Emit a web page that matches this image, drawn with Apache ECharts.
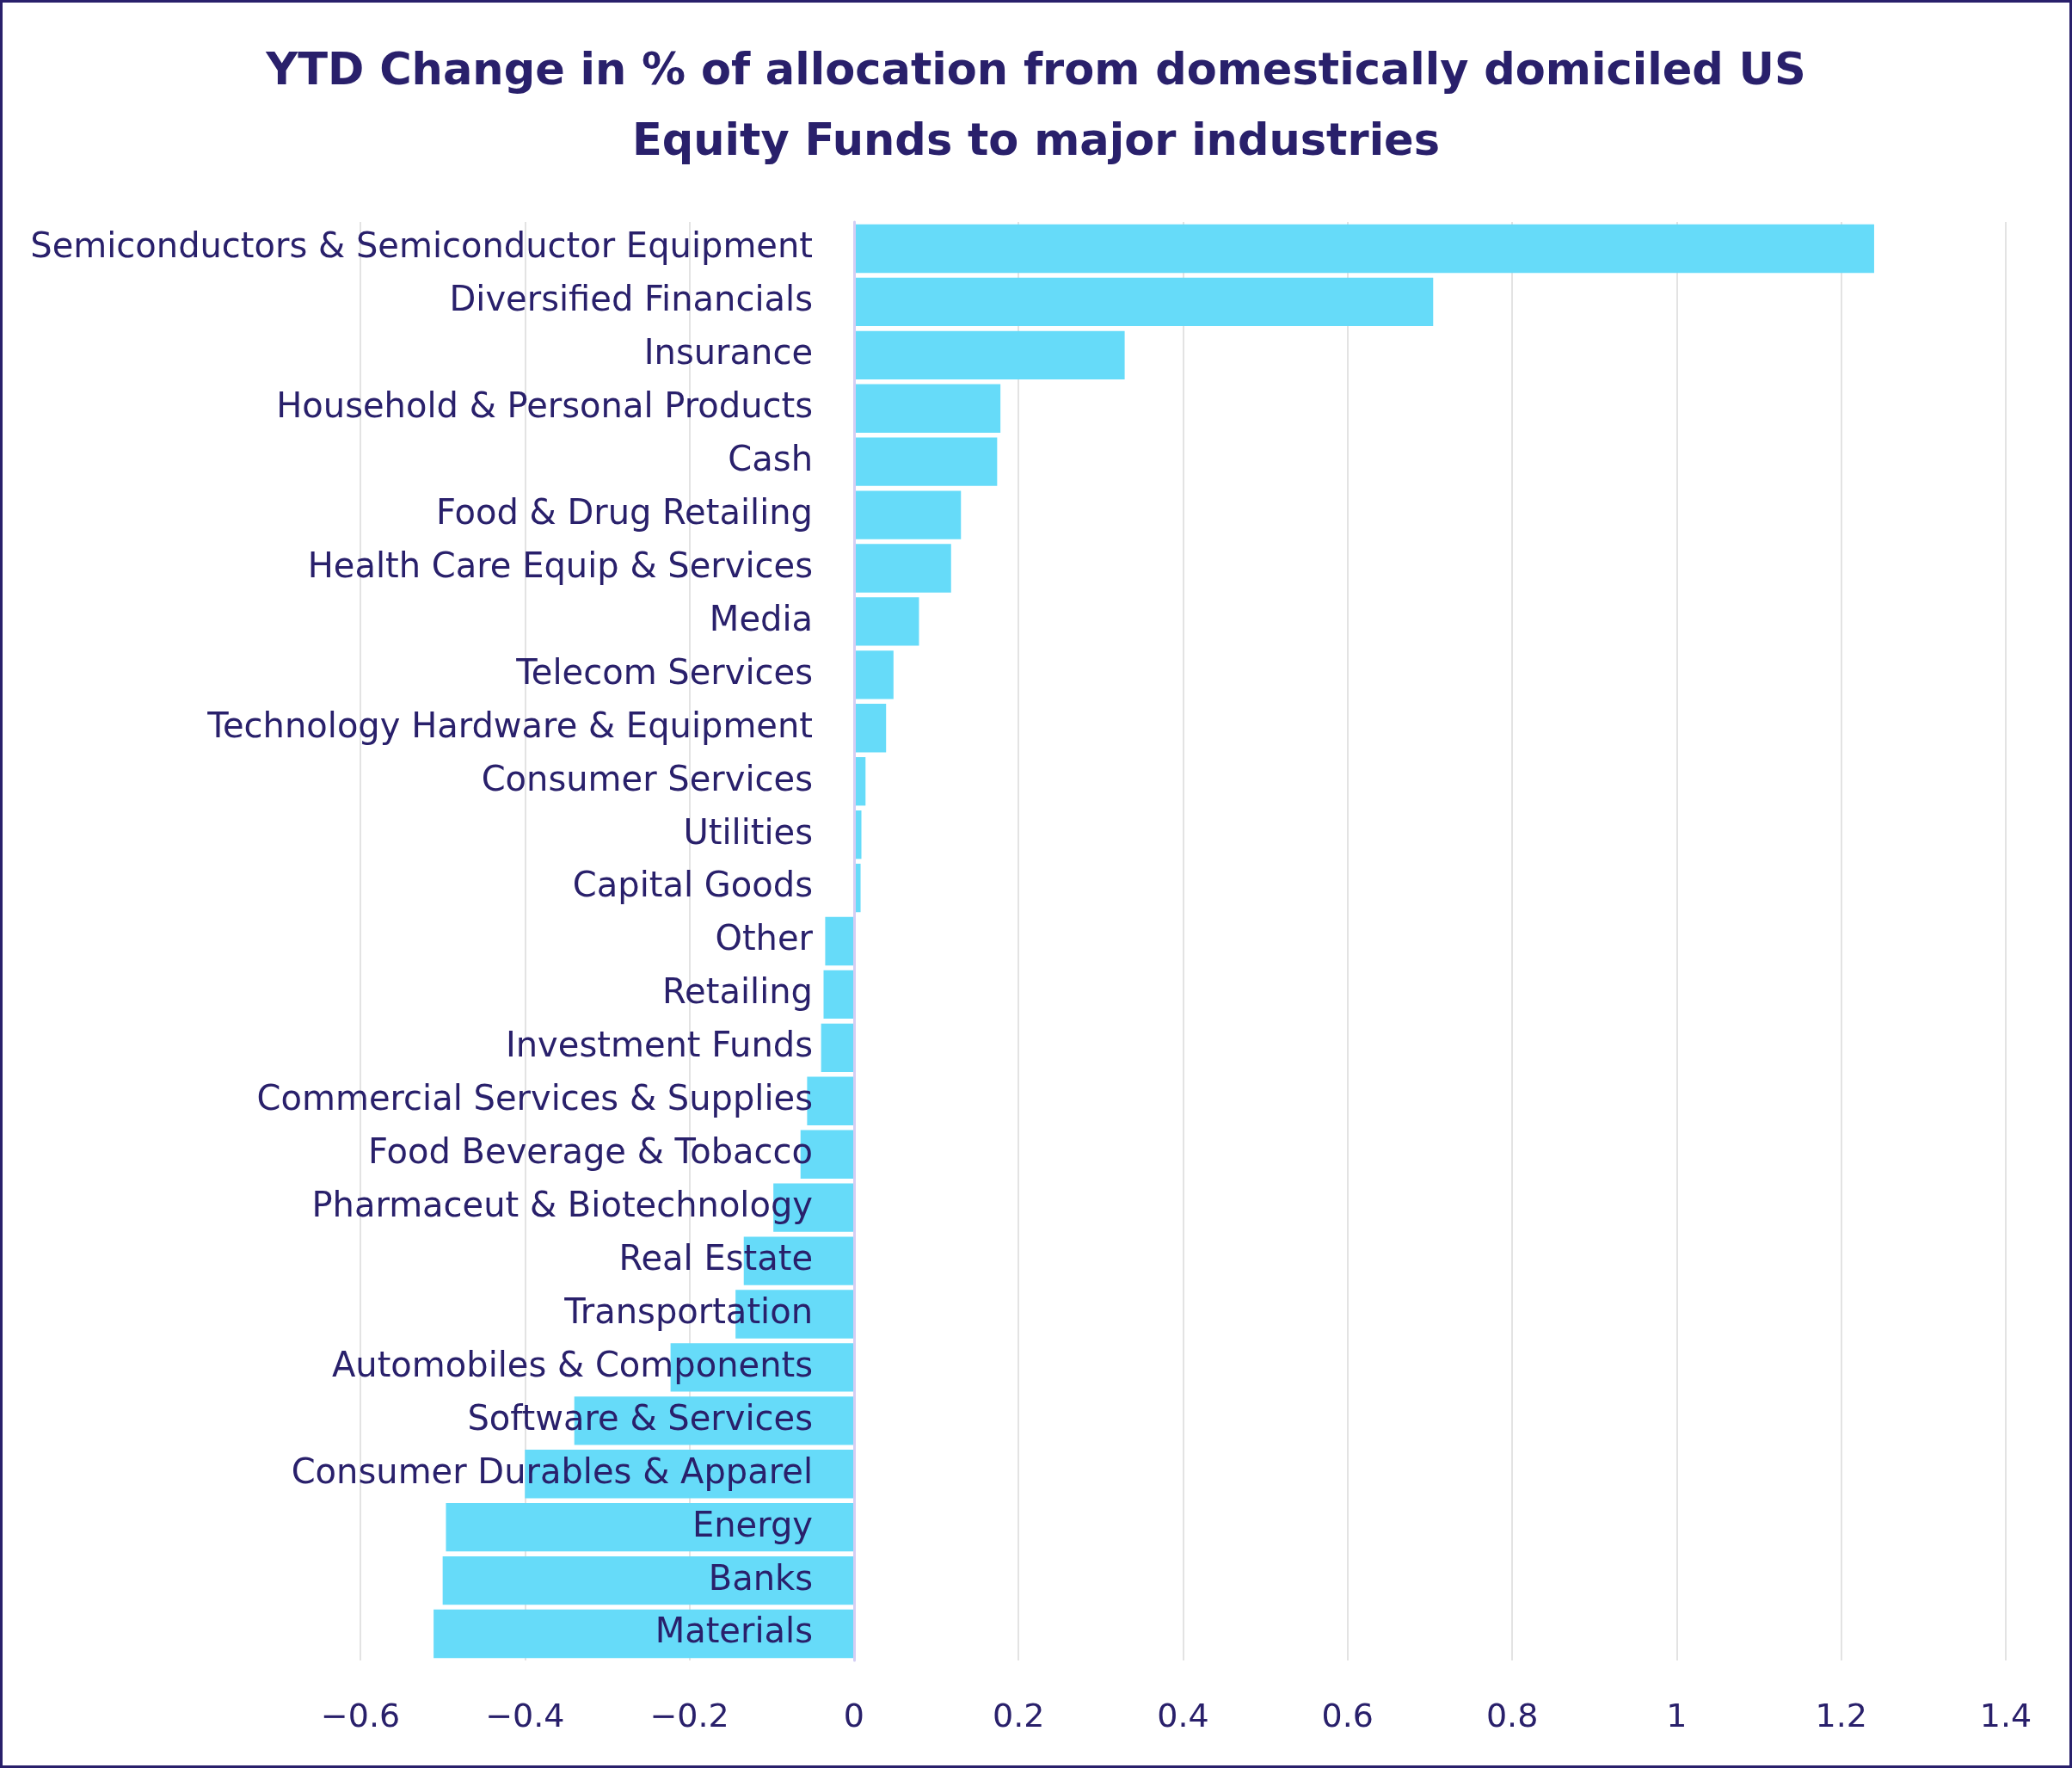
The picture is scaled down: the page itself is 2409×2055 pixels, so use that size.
<!DOCTYPE html>
<html><head><meta charset="utf-8">
<script src="https://cdn.jsdelivr.net/npm/echarts@6/dist/echarts.min.js"></script>
<style>html,body{margin:0;padding:0;background:#fff}#c{width:2409px;height:2055px}</style>
</head><body><div id="c"></div>
<script>
const categories = ["Semiconductors & Semiconductor Equipment","Diversified Financials","Insurance","Household & Personal Products","Cash","Food & Drug Retailing","Health Care Equip & Services","Media","Telecom Services","Technology Hardware & Equipment","Consumer Services","Utilities","Capital Goods","Other","Retailing","Investment Funds","Commercial Services & Supplies","Food Beverage & Tobacco","Pharmaceut & Biotechnology","Real Estate","Transportation","Automobiles & Components","Software & Services","Consumer Durables & Apparel","Energy","Banks","Materials"];
const values = [1.240,0.704,0.329,0.178,0.174,0.130,0.118,0.079,0.048,0.039,0.014,0.009,0.008,-0.035,-0.037,-0.040,-0.057,-0.065,-0.098,-0.134,-0.144,-0.223,-0.340,-0.400,-0.496,-0.500,-0.511];
const titleText = "YTD Change in % of allocation from domestically domiciled US\nEquity Funds to major industries";
const navy = '#29206b';
const chart = echarts.init(document.getElementById('c'));
chart.setOption({
  animation:false,
  backgroundColor:'#fff',
  title:{text:titleText,left:'center',top:39,textStyle:{fontFamily:'DejaVu Sans',fontWeight:'bold',fontSize:51,lineHeight:82,color:navy}},
  grid:{left:419,right:77,top:258,bottom:125,containLabel:false,outerBoundsMode:'none'},
  xAxis:{type:'value',min:-0.6,max:1.4,interval:0.2,
    axisLine:{show:false},axisTick:{show:false},
    splitLine:{show:true,lineStyle:{color:'#e3e3e3',width:2}},
    axisLabel:{color:navy,fontFamily:'DejaVu Sans',fontSize:38,margin:48,
      formatter:v=>{const r=Math.round(v*10)/10;return (r<0?'\u2212':'')+Math.abs(r);}}},
  yAxis:{type:'category',data:categories,inverse:true,offset:-574,z:10,
    axisLine:{show:true,onZero:false,lineStyle:{color:'#d4cef4',width:3}},
    axisTick:{show:false},
    axisLabel:{color:navy,fontFamily:'DejaVu Sans',fontSize:40,margin:48}},
  series:[{type:'bar',data:values,barCategoryGap:'9%',itemStyle:{color:'#66dbf9'},z:1}],
  graphic:[{type:'rect',shape:{x:0,y:0,width:2409,height:2055},style:{fill:'none',stroke:navy,lineWidth:6},silent:true,z:100}]
});
</script></body></html>
